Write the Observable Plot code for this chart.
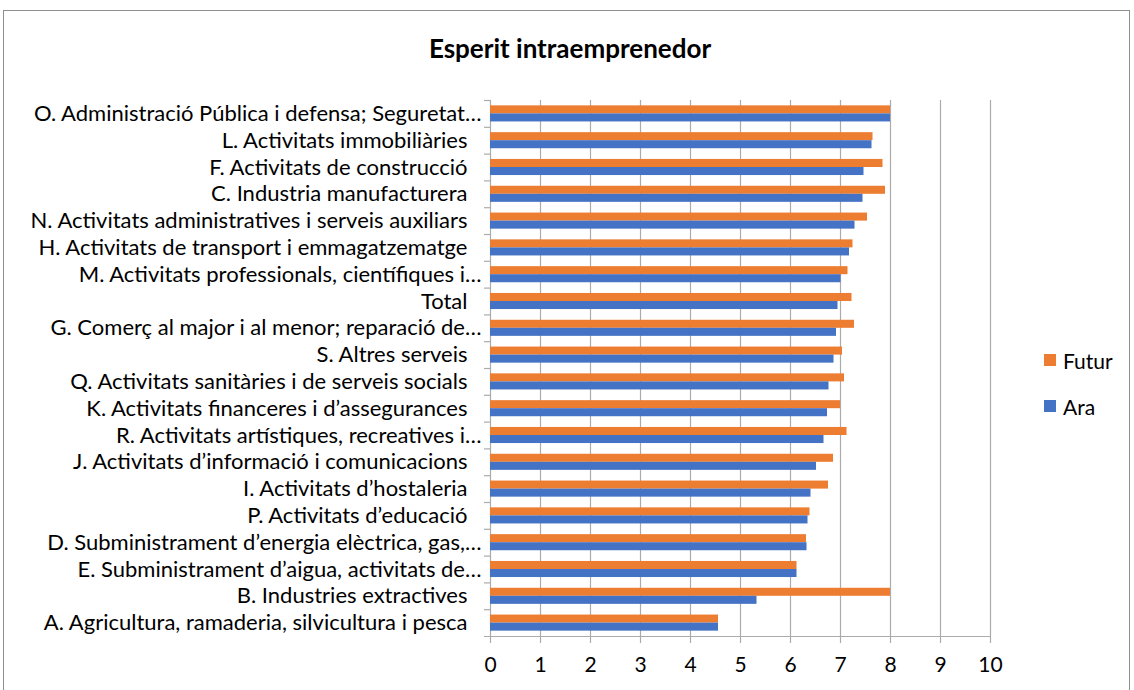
<!DOCTYPE html>
<html>
<head>
<meta charset="utf-8">
<script src="https://cdn.jsdelivr.net/npm/d3@7"></script>
<script src="https://cdn.jsdelivr.net/npm/@observablehq/plot@0.6"></script>
<style>
  html, body { margin: 0; padding: 0; background: #fff; }
  #wrap { position: relative; width: 1134px; height: 690px; overflow: hidden; font-family: Lato, "Open Sans", sans-serif; }
  #border { position: absolute; left: 3px; top: 10px; width: 1127px; height: 700px; border: 1px solid #8f8f8f; box-sizing: border-box; }
  #title { position: absolute; top: 31px; left: 0; width: 1140px; text-align: center; font-weight: bold; font-size: 26px; line-height: 34px; color: #000; }
  #chart { position: absolute; left: 0; top: 0; }
  #legend { position: absolute; left: 1044px; top: 347px; font-size: 21px; color: #000; }
  .li { display: flex; align-items: center; height: 26px; margin-bottom: 20px; }
  .sw { width: 12px; height: 12px; margin-right: 7px; }
</style>
</head>
<body>
<div id="wrap">
  <div id="border"></div>
  <div id="title">Esperit intraemprenedor</div>
  <div id="chart"></div>
  <div id="legend"></div>
</div>
<script>
const categories = [
  "O. Administració Pública i defensa; Seguretat…",
  "L. Activitats immobiliàries",
  "F. Activitats de construcció",
  "C. Industria manufacturera",
  "N. Activitats administratives i serveis auxiliars",
  "H. Activitats de transport i emmagatzematge",
  "M. Activitats professionals, científiques i…",
  "Total",
  "G. Comerç al major i al menor; reparació de…",
  "S. Altres serveis",
  "Q. Activitats sanitàries i de serveis socials",
  "K. Activitats financeres i d’assegurances",
  "R. Activitats artístiques, recreatives i…",
  "J. Activitats d’informació i comunicacions",
  "I. Activitats d’hostaleria",
  "P. Activitats d’educació",
  "D. Subministrament d’energia elèctrica, gas,…",
  "E. Subministrament d’aigua, activitats de…",
  "B. Industries extractives",
  "A. Agricultura, ramaderia, silvicultura i pesca"
];
const futur = [8.0, 7.65, 7.85, 7.9, 7.54, 7.25, 7.15, 7.23, 7.28, 7.04, 7.08, 7.0, 7.13, 6.86, 6.76, 6.39, 6.32, 6.13, 8.0, 4.56];
const ara   = [8.0, 7.63, 7.47, 7.45, 7.29, 7.18, 7.01, 6.95, 6.92, 6.87, 6.77, 6.74, 6.67, 6.52, 6.41, 6.35, 6.33, 6.13, 5.33, 4.56];
const xTicks = [0, 1, 2, 3, 4, 5, 6, 7, 8, 9, 10];
const seriesNames = ["Futur", "Ara"];
const seriesColors = ["#ED7D31", "#4472C4"];

const rows = categories.map((c, i) => ({cat: c, futur: futur[i], ara: ara[i]}));
const truncated = categories.filter(c => c.endsWith("…"));
const plain = categories.filter(c => !c.endsWith("…"));

const W = 1134, H = 690, mt = 100, mb = 54, ml = 490, mr = 144;
const step = (H - mt - mb) / categories.length;
const band = step * 0.6;
const grid = "#ababab";

const chart = Plot.plot({
  width: W, height: H,
  marginTop: mt, marginBottom: mb, marginLeft: ml, marginRight: mr,
  style: {fontFamily: "Lato, 'Open Sans', sans-serif", fontSize: "22px", color: "#000", background: "transparent"},
  x: {domain: [0, 10]},
  y: {domain: categories, paddingInner: 0.4, paddingOuter: 0.2, round: false},
  marks: [
    Plot.ruleX(xTicks, {x: d => d, stroke: grid, strokeWidth: 1.2}),
    Plot.barX(rows, {x: "futur", y: "cat", fill: seriesColors[0], insetBottom: band / 2}),
    Plot.barX(rows, {x: "ara", y: "cat", fill: seriesColors[1], insetTop: band / 2}),
    Plot.ruleY(categories, {y: d => d, x1: -0.12, x2: 0, dy: -step / 2, stroke: grid, strokeWidth: 1.2}),
    Plot.ruleY([categories[categories.length - 1]], {y: d => d, x1: -0.12, x2: 10, dy: step / 2, stroke: grid, strokeWidth: 1.2}),
    Plot.axisX({ticks: xTicks, tickSize: 7, tickPadding: 14, stroke: grid, strokeWidth: 1.2, fill: "#000", fontSize: 21, tickFormat: d => String(d), label: null}),
    Plot.axisY({ticks: plain, tickSize: 0, tickPadding: 23, fill: "#000", label: null}),
    Plot.axisY({ticks: truncated, tickSize: 0, tickPadding: 9, fill: "#000", label: null})
  ]
});
document.getElementById("chart").appendChild(chart);

const legend = document.getElementById("legend");
seriesNames.forEach((n, i) => {
  const d = document.createElement("div");
  d.className = "li";
  d.innerHTML = `<div class="sw" style="background:${seriesColors[i]}"></div><span>${n}</span>`;
  legend.appendChild(d);
});
</script>
</body>
</html>
